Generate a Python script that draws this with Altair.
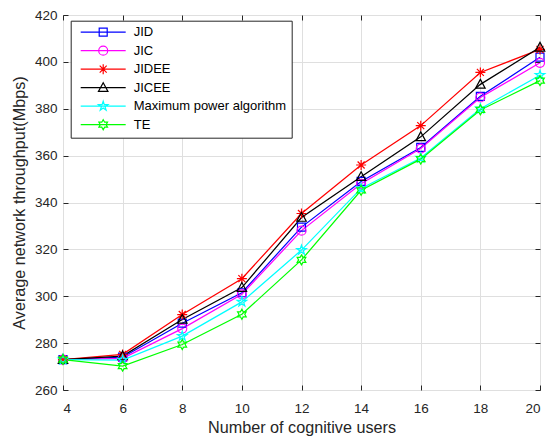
import altair as alt
import pandas as pd

users = [4, 6, 8, 10, 12, 14, 16, 18, 20]
series = ["JID", "JIC", "JIDEE", "JICEE", "Maximum power algorithm", "TE"]
jid = [273, 274, 288.5, 301.5, 329.5, 349, 363.5, 385.3, 402]
jic = [273, 273.5, 286.2, 300.8, 328, 348, 363, 384.8, 399.6]
jidee = [273, 275.2, 292.2, 307.5, 335.3, 356, 372.8, 395.5, 405.3]
jicee = [273, 274.5, 290.1, 303.7, 333.6, 351, 368, 390.4, 406.2]
maxpow = [273, 272.8, 283, 297.6, 319.7, 346, 359, 380, 394.3]
te = [273, 270.2, 279.4, 292.3, 315.5, 345.2, 358.5, 379.5, 392]
colors = ["#0000FF", "#FF00FF", "#FF0000", "#000000", "#00FFFF", "#00FF00"]
x_ticks = [4, 6, 8, 10, 12, 14, 16, 18, 20]
y_ticks = [260, 280, 300, 320, 340, 360, 380, 400, 420]

values = [jid, jic, jidee, jicee, maxpow, te]
rows = []
for name, vals in zip(series, values):
    for u, v in zip(users, vals):
        rows.append({"users": u, "throughput": v, "series": name})
df = pd.DataFrame(rows)

# marker shapes (normalized paths)
square = "M-0.8,-0.8H0.8V0.8H-0.8Z"
circle = "M-0.9,0A0.9,0.9 0 1,0 0.9,0A0.9,0.9 0 1,0 -0.9,0Z"
aster = "M-1,0H1M0,-1V1M-0.7,-0.7L0.7,0.7M-0.7,0.7L0.7,-0.7"
tri = "M0,-1L0.95,0.75L-0.95,0.75Z"
penta = ("M0,-1L0.2245,-0.309L0.951,-0.309L0.363,0.118L0.588,0.809L0,0.382"
         "L-0.588,0.809L-0.363,0.118L-0.951,-0.309L-0.2245,-0.309Z")
hexa = ("M0,-1L0.2887,-0.5L0.866,-0.5L0.577,0L0.866,0.5L0.2887,0.5L0,1"
        "L-0.2887,0.5L-0.866,0.5L-0.577,0L-0.866,-0.5L-0.2887,-0.5Z")
markers = [square, circle, aster, tri, penta, hexa]
seg = "M-4.5,0H4.5"
legend_markers = [seg + m for m in markers]

FONT = "Liberation Sans"
W, H = 477, 375

xscale = alt.Scale(domain=[4, 20], nice=False, zero=False)
yscale = alt.Scale(domain=[260, 420], nice=False, zero=False)
cscale = alt.Scale(domain=series, range=colors)

def tick_axis(orient, vals):
    return alt.Axis(orient=orient, values=vals, grid=False, labels=False, domain=False,
                    ticks=True, tickSize=5, tickColor="#262626", tickWidth=1,
                    offset=-5, title=None, zindex=1)

x_main = alt.Axis(orient="bottom", values=x_ticks, grid=True, gridColor="#dfdfdf",
                  gridWidth=1, ticks=False, tickSize=0, domain=False,
                  labelFontSize=13.5, labelColor="#262626", labelPadding=11,
                  title="Number of cognitive users", titleFontSize=16.2,
                  titleFontWeight="normal", titleColor="#262626",
                  titleX=W / 2, titleY=42, titleBaseline="alphabetic", titleAlign="center")
y_main = alt.Axis(orient="left", values=y_ticks, grid=True, gridColor="#dfdfdf",
                  gridWidth=1, ticks=False, tickSize=0, domain=False,
                  labelFontSize=13.5, labelColor="#262626", labelPadding=6,
                  title="Average network throughput(Mbps)", titleFontSize=16.2,
                  titleFontWeight="normal", titleColor="#262626",
                  titleX=-39, titleY=H / 2, titleAngle=270,
                  titleBaseline="alphabetic", titleAlign="center")

base = alt.Chart(df)

lines = base.mark_line(strokeWidth=1.25).encode(
    x=alt.X("users:Q", scale=xscale, axis=x_main),
    y=alt.Y("throughput:Q", scale=yscale, axis=y_main),
    color=alt.Color("series:N", scale=cscale, legend=None),
    order=alt.Order("users:Q"),
)

points = base.mark_point(filled=False, size=100, strokeWidth=1.2, opacity=1).encode(
    x=alt.X("users:Q", scale=xscale, axis=tick_axis("top", x_ticks)),
    y=alt.Y("throughput:Q", scale=yscale, axis=tick_axis("right", y_ticks)),
    color=alt.Color("series:N", scale=cscale, legend=None),
    shape=alt.Shape("series:N", scale=alt.Scale(domain=series, range=markers), legend=None),
)

leg = alt.Legend(title=None, orient="none", legendX=7.7, legendY=5.7, padding=5,
                 rowPadding=3.5, symbolSize=100, symbolOffset=21, labelOffset=24,
                 labelFontSize=13, labelFont=FONT, labelColor="#000000", labelLimit=400,
                 strokeColor="#262626", fillColor="#ffffff", symbolOpacity=1,
                 symbolStrokeWidth=1.2, symbolFillColor="transparent")

legend_layer = base.mark_point(filled=False, size=100, opacity=0).encode(
    x=alt.X("users:Q", scale=xscale, axis=tick_axis("bottom", x_ticks)),
    y=alt.Y("throughput:Q", scale=yscale, axis=tick_axis("left", y_ticks)),
    color=alt.Color("series:N", scale=cscale, legend=leg),
    shape=alt.Shape("series:N", scale=alt.Scale(domain=series, range=legend_markers), legend=leg),
)

chart = alt.layer(lines, points, legend_layer).resolve_scale(
    color="independent", shape="independent"
).resolve_axis(
    x="independent", y="independent"
).properties(
    width=W, height=H,
    autosize=alt.AutoSizeParams(type="none"),
    padding={"left": 63, "top": 15, "right": 19, "bottom": 46},
).configure(font=FONT, background="#ffffff").configure_view(
    stroke="#262626", strokeWidth=1
)

chart.save("out.html", embed_options={"renderer": "svg", "actions": False})
